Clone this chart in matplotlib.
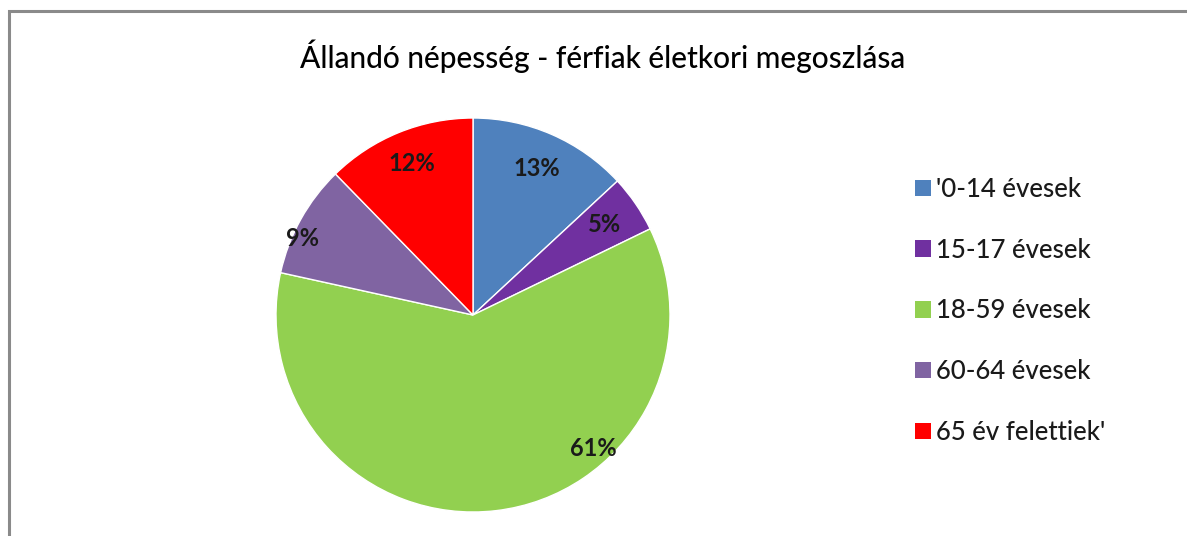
import matplotlib
matplotlib.use("Agg")
import matplotlib.pyplot as plt
from matplotlib.patches import Rectangle, Patch
import numpy as np

title = "Állandó népesség - férfiak életkori megoszlása"
categories = ["'0-14 évesek", "15-17 évesek", "18-59 évesek", "60-64 évesek", "65 év felettiek'"]
values = [13.1, 4.7, 60.65, 9.25, 12.3]
colors = ["#4F81BD", "#7030A0", "#92D050", "#8064A2", "#FF0000"]

# label placement (radius fraction, angle override in degrees or None)
label_r = [0.81, 0.81, 0.91, 0.95, 0.83]
label_ang = [None, None, -48, 156, None]

W, H = 1187, 536
fig = plt.figure(figsize=(W / 100, H / 100), dpi=100)
fig.patch.set_facecolor("white")
font = "Lato"

# chart border (top & left visible)
fig.add_artist(Rectangle((9 / W, -0.1), 1.2, (H - 11) / H + 0.1, transform=fig.transFigure,
                         fill=False, edgecolor="#8a8a8a", lw=2.2))

cx, cy, r = 473, 315, 197
ax = fig.add_axes([(cx - r) / W, (H - cy - r) / H, 2 * r / W, 2 * r / H])
wedges, texts, autotexts = ax.pie(values, colors=colors, startangle=90, counterclock=False,
                                  autopct="%.0f%%", pctdistance=0.8,
                                  wedgeprops=dict(edgecolor="white", linewidth=1.0),
                                  textprops=dict(fontsize=17, fontweight="bold", family=font,
                                                 color="#1a1a1a"))
for i, (w, t) in enumerate(zip(wedges, autotexts)):
    ang = label_ang[i] if label_ang[i] is not None else (w.theta1 + w.theta2) / 2
    a = np.deg2rad(ang)
    t.set_position((label_r[i] * np.cos(a), label_r[i] * np.sin(a)))
    t.set_ha("center"); t.set_va("center")
ax.set_xlim(-1, 1); ax.set_ylim(-1, 1)
ax.set_aspect("equal")
ax.axis("off")

fig.text(603 / W, (H - 56) / H, title, ha="center", va="center", fontsize=21.5,
         family=font, fontweight="medium", color="black")

handles = [Patch(facecolor=c, edgecolor="none") for c in colors]
leg = fig.legend(handles, categories, loc="center left", bbox_to_anchor=(905 / W, (H - 311) / H),
                 frameon=False, prop=dict(family=font, size=18.5, weight="medium"),
                 handlelength=0.62, handleheight=0.62, handletextpad=0.2, labelspacing=1.39,
                 borderaxespad=0)
for t in leg.get_texts():
    t.set_color("#1a1a1a")

fig.savefig("out.png", dpi=100, facecolor="white")
